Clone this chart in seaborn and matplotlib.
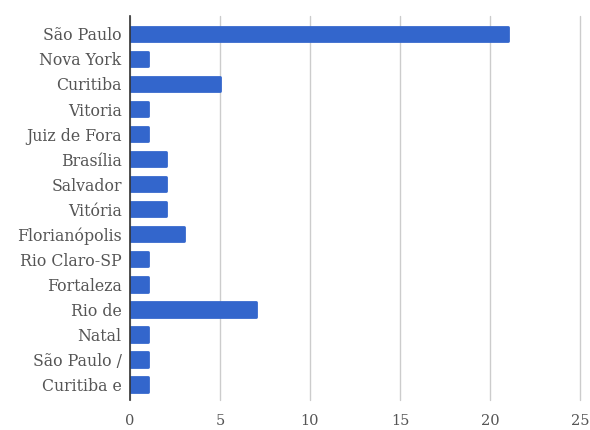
import matplotlib.pyplot as plt
import seaborn as sns
import pandas as pd

cidades = ['São Paulo', 'Nova York', 'Curitiba', 'Vitoria', 'Juiz de Fora',
           'Brasília', 'Salvador', 'Vitória', 'Florianópolis', 'Rio Claro-SP',
           'Fortaleza', 'Rio de', 'Natal', 'São Paulo /', 'Curitiba e']
contagem = [21, 1, 5, 1, 1, 2, 2, 2, 3, 1, 1, 7, 1, 1, 1]
ticks_x = [0, 5, 10, 15, 20, 25]

df = pd.DataFrame({'cidade': cidades, 'n': contagem})

sns.set_style('white')
plt.rcParams['font.family'] = ['DejaVu Serif']

fig = plt.figure(figsize=(5.9, 4.3), dpi=100)
ax = fig.add_axes([0.2203, 0.070, 0.7627, 0.893])

sns.barplot(data=df, x='n', y='cidade', orient='h', color='#3366cc',
            saturation=1, width=0.58, ax=ax, zorder=3)
for p in ax.patches:
    p.set_edgecolor('#3366cc')
    p.set_linewidth(2)
    p.set_joinstyle('round')

ax.set_xlim(0, 25)
ax.set_ylim(14.62, -0.72)
ax.set_xticks(ticks_x)
ax.xaxis.grid(True, color='#cccccc', linewidth=1)
for gl in ax.get_xgridlines():
    gl.set_clip_on(False)
ax.set_axisbelow(True)
for s in ['top', 'right', 'bottom']:
    ax.spines[s].set_visible(False)
ax.spines['left'].set_color('#333333')
ax.spines['left'].set_linewidth(1.2)
ax.spines['left'].set_zorder(4)
ax.tick_params(axis='both', length=0)
ax.tick_params(axis='y', labelsize=11.3, labelcolor='#555555', pad=6)
ax.tick_params(axis='x', labelsize=10.5, labelcolor='#555555', pad=10)
ax.set_xlabel('')
ax.set_ylabel('')

fig.savefig('out.png', dpi=100)
